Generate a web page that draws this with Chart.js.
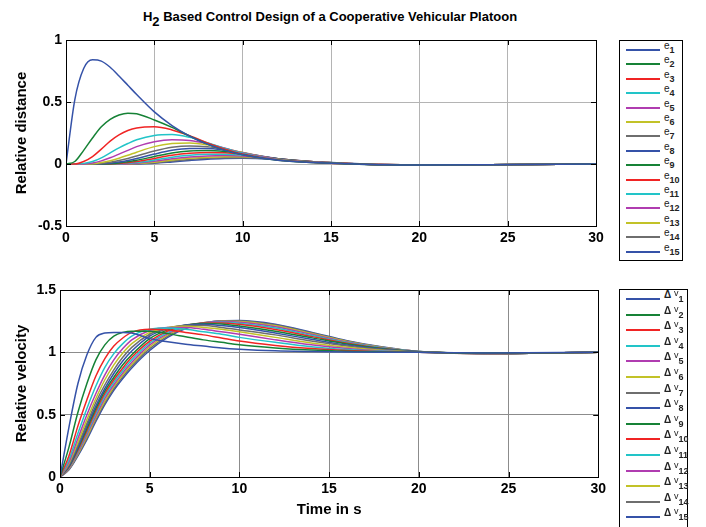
<!DOCTYPE html>
<html>
<head>
<meta charset="utf-8">
<script src="https://cdn.jsdelivr.net/npm/chart.js@4/dist/chart.umd.min.js"></script>
<style>
  body { margin: 0; background: #fff; width: 706px; height: 527px; position: relative; overflow: hidden;
         font-family: "Liberation Sans", Arial, sans-serif; }
  canvas { position: absolute; }
  #title { position: absolute; left: 0; width: 660px; top: 9px; text-align: center; font-weight: bold; font-size: 13px; }
  #title sub { font-size: 13px; position: relative; top: 1px; }
  .legend { position: absolute; border: 1px solid #000; background: #fff; box-sizing: border-box; }
  .item { position: absolute; left: 0; width: 100%; height: 14px; }
  .item i { position: absolute; top: 6px; height: 2px; width: 34px; }
  .item span { position: absolute; top: -3px; font-size: 10px; white-space: nowrap; color: #222; }
  .item span b { font-size: 9px; position: relative; top: 4px; }
</style>
</head>
<body>
<div id="title">H<sub>2</sub> Based Control Design of a Cooperative Vehicular Platoon</div>
<canvas id="top" width="610" height="260" style="left:0;top:0"></canvas>
<canvas id="bottom" width="610" height="277" style="left:0;top:250px"></canvas>
<div id="legTop" class="legend" style="left:619px;top:40px;width:64px;height:221px"></div>
<div id="legBottom" class="legend" style="left:619px;top:289px;width:69px;height:250px"></div>
<script>
// time samples (s)
const time = [0, 0.5, 1, 1.5, 2, 2.5, 3, 3.5, 4, 5, 6, 7, 8, 9, 10, 12, 14, 16, 18, 20, 24, 30]

// relative distance errors e1..e15
const e1  = [0, 0.52, 0.77, 0.84, 0.83, 0.78, 0.71, 0.635, 0.56, 0.42, 0.31, 0.225, 0.16, 0.11, 0.075, 0.03, 0.012, 0.002, -0.006, -0.008, -0.006, 0]
const e2  = [0, 0.02, 0.11, 0.21, 0.3, 0.36, 0.395, 0.41, 0.405, 0.355, 0.295, 0.225, 0.16, 0.11, 0.075, 0.03, 0.012, 0.002, -0.006, -0.008, -0.006, 0]
const e3  = [0, 0, 0.02, 0.06, 0.12, 0.185, 0.235, 0.27, 0.29, 0.3, 0.275, 0.228, 0.17, 0.12, 0.08, 0.032, 0.013, 0.002, -0.006, -0.008, -0.006, 0]
const e4  = [0, 0, 0.005, 0.02, 0.05, 0.09, 0.13, 0.165, 0.195, 0.23, 0.237, 0.215, 0.172, 0.126, 0.087, 0.034, 0.013, 0.002, -0.006, -0.008, -0.006, 0]
const e5  = [0, 0, 0, 0.008, 0.025, 0.05, 0.08, 0.11, 0.14, 0.18, 0.196, 0.19, 0.165, 0.127, 0.09, 0.036, 0.014, 0.002, -0.006, -0.008, -0.006, 0]
const e6  = [0, 0, 0, 0.003, 0.012, 0.027, 0.047, 0.07, 0.095, 0.14, 0.165, 0.17, 0.155, 0.126, 0.092, 0.038, 0.014, 0.002, -0.006, -0.008, -0.006, 0]
const e7  = [0, 0, 0, 0, 0.005, 0.014, 0.028, 0.045, 0.065, 0.105, 0.135, 0.146, 0.14, 0.12, 0.092, 0.04, 0.015, 0.003, -0.006, -0.008, -0.006, 0]
const e8  = [0, 0, 0, 0, 0.002, 0.007, 0.016, 0.029, 0.045, 0.08, 0.11, 0.125, 0.126, 0.112, 0.089, 0.042, 0.016, 0.003, -0.006, -0.008, -0.006, 0]
const e9  = [0, 0, 0, 0, 0, 0.003, 0.009, 0.018, 0.03, 0.06, 0.088, 0.104, 0.108, 0.1, 0.084, 0.043, 0.017, 0.003, -0.006, -0.008, -0.006, 0]
const e10 = [0, 0, 0, 0, 0, 0.001, 0.005, 0.011, 0.02, 0.045, 0.07, 0.086, 0.093, 0.09, 0.078, 0.043, 0.018, 0.004, -0.005, -0.008, -0.006, 0]
const e11 = [0, 0, 0, 0, 0, 0, 0.002, 0.006, 0.012, 0.032, 0.055, 0.07, 0.078, 0.079, 0.072, 0.042, 0.018, 0.004, -0.005, -0.008, -0.006, 0]
const e12 = [0, 0, 0, 0, 0, 0, 0.001, 0.003, 0.007, 0.022, 0.042, 0.057, 0.065, 0.068, 0.065, 0.041, 0.019, 0.005, -0.005, -0.008, -0.006, 0]
const e13 = [0, 0, 0, 0, 0, 0, 0, 0.002, 0.004, 0.015, 0.032, 0.046, 0.055, 0.058, 0.058, 0.04, 0.019, 0.005, -0.005, -0.008, -0.006, 0]
const e14 = [0, 0, 0, 0, 0, 0, 0, 0.001, 0.002, 0.01, 0.024, 0.037, 0.046, 0.05, 0.051, 0.038, 0.019, 0.005, -0.005, -0.008, -0.006, 0]
const e15 = [0, 0, 0, 0, 0, 0, 0, 0, 0.001, 0.006, 0.017, 0.029, 0.039, 0.044, 0.046, 0.036, 0.019, 0.006, -0.004, -0.008, -0.006, 0]

// relative velocities dv1..dv15
const dv1  = [0, 0.40, 0.75, 0.98, 1.12, 1.155, 1.16, 1.16, 1.155, 1.11, 1.085, 1.065, 1.05, 1.035, 1.025, 1.012, 1.006, 1.002, 1.0, 1.0, 0.995, 1.0]
const dv2  = [0, 0.24, 0.52, 0.75, 0.94, 1.06, 1.13, 1.16, 1.17, 1.17, 1.15, 1.125, 1.1, 1.08, 1.06, 1.035, 1.018, 1.008, 1.002, 1.0, 0.994, 1.0]
const dv3  = [0, 0.17, 0.41, 0.62, 0.81, 0.95, 1.05, 1.115, 1.16, 1.185, 1.18, 1.16, 1.14, 1.115, 1.09, 1.055, 1.03, 1.014, 1.005, 1.0, 0.993, 1.0]
const dv4  = [0, 0.14, 0.35, 0.55, 0.73, 0.88, 0.99, 1.07, 1.13, 1.185, 1.195, 1.185, 1.165, 1.145, 1.12, 1.08, 1.045, 1.022, 1.008, 1.0, 0.992, 1.0]
const dv5  = [0, 0.12, 0.31, 0.5, 0.67, 0.82, 0.94, 1.03, 1.1, 1.175, 1.2, 1.2, 1.185, 1.165, 1.145, 1.1, 1.06, 1.03, 1.01, 1.0, 0.991, 1.0]
const dv6  = [0, 0.11, 0.28, 0.46, 0.63, 0.78, 0.9, 0.995, 1.07, 1.16, 1.2, 1.21, 1.2, 1.185, 1.165, 1.12, 1.075, 1.04, 1.015, 1.002, 0.991, 1.0]
const dv7  = [0, 0.1, 0.26, 0.43, 0.6, 0.74, 0.86, 0.96, 1.04, 1.145, 1.195, 1.215, 1.215, 1.2, 1.18, 1.14, 1.09, 1.05, 1.02, 1.003, 0.99, 1.0]
const dv8  = [0, 0.09, 0.24, 0.41, 0.57, 0.71, 0.83, 0.93, 1.01, 1.13, 1.19, 1.22, 1.225, 1.215, 1.2, 1.155, 1.105, 1.058, 1.024, 1.004, 0.99, 1.0]
const dv9  = [0, 0.085, 0.23, 0.39, 0.55, 0.69, 0.8, 0.9, 0.98, 1.11, 1.18, 1.22, 1.232, 1.228, 1.212, 1.17, 1.118, 1.066, 1.028, 1.005, 0.99, 1.0]
const dv10 = [0, 0.08, 0.215, 0.37, 0.53, 0.67, 0.78, 0.875, 0.96, 1.09, 1.17, 1.215, 1.236, 1.236, 1.225, 1.183, 1.128, 1.073, 1.031, 1.005, 0.99, 1.0]
const dv11 = [0, 0.075, 0.205, 0.355, 0.51, 0.65, 0.76, 0.855, 0.94, 1.075, 1.16, 1.21, 1.238, 1.242, 1.234, 1.195, 1.137, 1.078, 1.034, 1.006, 0.99, 1.0]
const dv12 = [0, 0.07, 0.195, 0.34, 0.49, 0.63, 0.74, 0.835, 0.92, 1.06, 1.15, 1.205, 1.238, 1.247, 1.242, 1.205, 1.145, 1.083, 1.036, 1.006, 0.99, 1.0]
const dv13 = [0, 0.066, 0.186, 0.325, 0.475, 0.61, 0.725, 0.82, 0.905, 1.045, 1.14, 1.2, 1.237, 1.25, 1.248, 1.213, 1.151, 1.087, 1.038, 1.006, 0.99, 1.0]
const dv14 = [0, 0.062, 0.178, 0.312, 0.46, 0.595, 0.71, 0.805, 0.89, 1.03, 1.13, 1.195, 1.235, 1.252, 1.252, 1.22, 1.157, 1.09, 1.04, 1.006, 0.99, 1.0]
const dv15 = [0, 0.058, 0.17, 0.3, 0.445, 0.58, 0.695, 0.79, 0.875, 1.015, 1.12, 1.19, 1.232, 1.253, 1.255, 1.225, 1.162, 1.093, 1.042, 1.006, 0.99, 1.0]

const xTicks = [0, 5, 10, 15, 20, 25, 30]
const distTicks = [-0.5, 0, 0.5, 1]
const velTicks = [0, 0.5, 1, 1.5]

const palette = ["#3552a8", "#168236", "#f02424", "#22c4c8", "#b03cb0", "#c2c228", "#6e6e6e"]

const distSeries = [e1, e2, e3, e4, e5, e6, e7, e8, e9, e10, e11, e12, e13, e14, e15]
const velSeries = [dv1, dv2, dv3, dv4, dv5, dv6, dv7, dv8, dv9, dv10, dv11, dv12, dv13, dv14, dv15]

// black frame round the plot area plus short inward tick marks (MATLAB style)
const boxPlugin = {
  id: "box",
  afterDraw(chart) {
    const { ctx, chartArea: a, scales } = chart
    ctx.save()
    ctx.strokeStyle = "#000"
    ctx.lineWidth = 1
    ctx.strokeRect(Math.round(a.left) + 0.5, Math.round(a.top) + 0.5, Math.round(a.right - a.left), Math.round(a.bottom - a.top))
    ctx.beginPath()
    scales.x.ticks.forEach(t => {
      const x = Math.round(scales.x.getPixelForValue(t.value)) + 0.5
      ctx.moveTo(x, a.bottom); ctx.lineTo(x, a.bottom - 5)
      ctx.moveTo(x, a.top); ctx.lineTo(x, a.top + 5)
    })
    scales.y.ticks.forEach(t => {
      const y = Math.round(scales.y.getPixelForValue(t.value)) + 0.5
      ctx.moveTo(a.left, y); ctx.lineTo(a.left + 5, y)
      ctx.moveTo(a.right, y); ctx.lineTo(a.right - 5, y)
    })
    ctx.stroke()
    ctx.restore()
  }
}

function makeChart(id, series, ticks, opts) {
  const datasets = series.map((vals, i) => ({
    label: String(i + 1),
    data: time.map((t, j) => ({ x: t, y: vals[j] })),
    borderColor: palette[i % palette.length],
    borderWidth: 1.5,
    pointRadius: 0,
    cubicInterpolationMode: "monotone",
    fill: false
  }))
  const tickFont = { family: "Liberation Sans", weight: "bold", size: 14 }
  return new Chart(document.getElementById(id), {
    type: "line",
    data: { datasets },
    plugins: [boxPlugin],
    options: {
      responsive: false,
      animation: false,
      layout: { padding: { top: 40, right: opts.right, left: 0, bottom: 0 } },
      plugins: { legend: { display: false }, tooltip: { enabled: false } },
      scales: {
        x: {
          type: "linear", min: 0, max: 30,
          afterBuildTicks: s => { s.ticks = xTicks.map(v => ({ value: v })) },
          afterFit: s => { s.height = opts.xHeight },
          ticks: { font: tickFont, color: "#000", padding: 4, maxRotation: 0, callback: v => String(v) },
          grid: { color: opts.grid, tickLength: 0 },
          border: { color: "#000" },
          title: opts.xTitle ? { display: true, text: opts.xTitle, color: "#000",
            font: { family: "Liberation Sans", weight: "bold", size: 15 }, padding: { top: 0, bottom: 8 } } : { display: false }
        },
        y: {
          min: ticks[0], max: ticks[ticks.length - 1],
          afterBuildTicks: s => { s.ticks = ticks.map(v => ({ value: v })) },
          afterFit: s => { s.width = opts.yWidth },
          ticks: { font: tickFont, color: "#000", padding: 4, callback: v => String(v) },
          grid: { color: opts.grid, tickLength: 0 },
          border: { color: "#000" },
          title: { display: true, text: opts.yTitle, color: "#000",
            font: { family: "Liberation Sans", weight: "bold", size: 15 }, padding: { top: 13, bottom: 0 } }
        }
      }
    }
  })
}

const topChart = makeChart("top", distSeries, distTicks,
  { right: 14, xHeight: 34, yWidth: 66, grid: "#b4b4b4", yTitle: "Relative distance" })
const bottomChart = makeChart("bottom", velSeries, velTicks,
  { right: 10, xHeight: 50, yWidth: 60, grid: "#8c8c8c", yTitle: "Relative velocity", xTitle: "Time in s" })

function buildLegend(el, chart, step, first, delta) {
  chart.data.datasets.forEach((ds, i) => {
    const row = document.createElement("div")
    row.className = "item"
    row.style.top = (first + step * i - 7) + "px"
    const line = document.createElement("i")
    line.style.left = "6px"
    line.style.background = ds.borderColor
    const txt = document.createElement("span")
    txt.style.left = "44px"
    txt.innerHTML = delta
      ? '<strong style="font-size:10px">&Delta;</strong> <span style="position:relative;top:-2px;font-size:9px">v</span><b>' + ds.label + "</b>"
      : "e<b>" + ds.label + "</b>"
    row.appendChild(line)
    row.appendChild(txt)
    el.appendChild(row)
  })
}
buildLegend(document.getElementById("legTop"), topChart, 14.4, 9, false)
buildLegend(document.getElementById("legBottom"), bottomChart, 15.6, 9, true)
</script>
</body>
</html>
